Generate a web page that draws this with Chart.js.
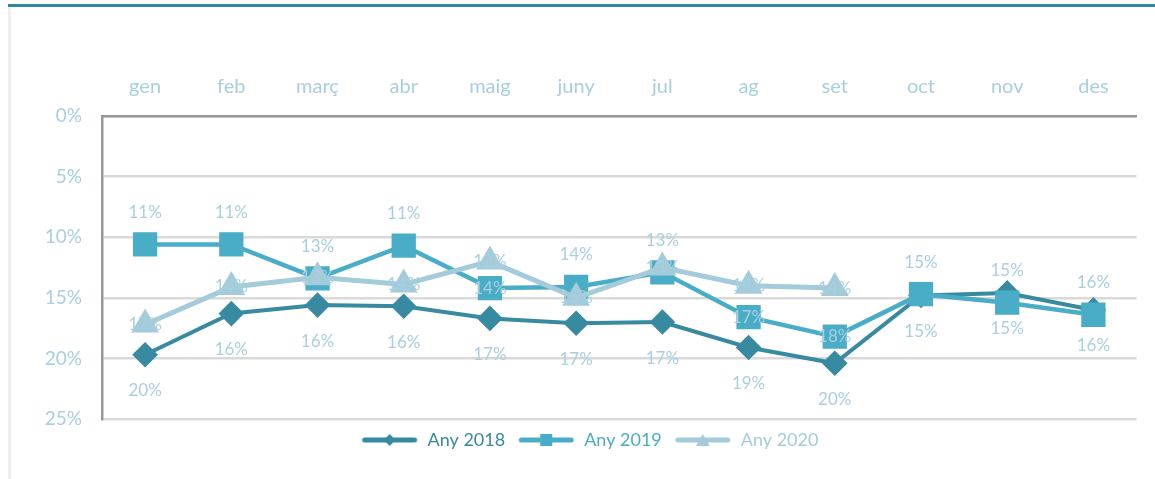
<!DOCTYPE html>
<html>
<head>
<meta charset="utf-8">
<script src="https://cdn.jsdelivr.net/npm/chart.js@4"></script>
<style>
  html, body { margin: 0; padding: 0; background: #fff; }
  #wrap { position: relative; width: 1155px; height: 479px; overflow: hidden; }
  #topbar { position: absolute; left: 8px; right: 0; top: 4px; height: 3px; background: #2f87a0; }
  #sidebar { position: absolute; left: 8px; top: 7px; bottom: 0; width: 3px; background: #efefef; }
  #chart { position: absolute; left: 0; top: 0; }
</style>
</head>
<body>
<div id="wrap">
  <div id="topbar"></div>
  <div id="sidebar"></div>
  <canvas id="chart" width="1155" height="479"></canvas>
</div>
<script>
//////////////////////
// Data
//////////////////////
const months = ["gen", "feb", "març", "abr", "maig", "juny", "jul", "ag", "set", "oct", "nov", "des"];
const any2018 = [19.7, 16.3, 15.6, 15.7, 16.7, 17.1, 17.0, 19.1, 20.4, 14.8, 14.6, 16.0];
const any2019 = [10.6, 10.6, 13.4, 10.7, 14.2, 14.1, 12.9, 16.6, 18.2, 14.7, 15.4, 16.4];
const any2020 = [17.2, 14.1, 13.3, 13.9, 12.0, 15.0, 12.5, 14.0, 14.2, null, null, null];
const yTicks = [0, 5, 10, 15, 20, 25];

// where each series puts its value label: "above", "below" or "center"
const labelPos2018 = Array(12).fill("below");
const labelPos2019 = ["above", "above", "above", "above", "center", "above", "above", "center", "center", "above", "above", "above"];
const labelPos2020 = Array(12).fill("center");

const labelColor = "#a8cfe0";
const fontFamily = "Lato, 'Open Sans', sans-serif";

//////////////////////
// Legend icons (line + marker)
//////////////////////
function legendIcon(color, shape) {
    const c = document.createElement("canvas");
    c.width = 58; c.height = 14;
    const ctx = c.getContext("2d");
    ctx.strokeStyle = color;
    ctx.fillStyle = color;
    ctx.lineWidth = 5;
    ctx.lineCap = "round";
    ctx.beginPath();
    ctx.moveTo(4, 7); ctx.lineTo(54, 7);
    ctx.stroke();
    ctx.beginPath();
    if (shape === "diamond") {
        ctx.moveTo(29, 1); ctx.lineTo(35, 7); ctx.lineTo(29, 13); ctx.lineTo(23, 7);
    } else if (shape === "square") {
        ctx.rect(23, 1, 12, 12);
    } else {
        ctx.moveTo(29, 1); ctx.lineTo(36, 13); ctx.lineTo(22, 13);
    }
    ctx.closePath();
    ctx.fill();
    return c;
}

//////////////////////
// Value labels plugin
//////////////////////
const valueLabels = {
    id: "valueLabels",
    afterDatasetsDraw(chart) {
        const ctx = chart.ctx;
        ctx.save();
        ctx.font = "17px " + fontFamily;
        ctx.fillStyle = labelColor;
        ctx.textAlign = "center";
        ctx.textBaseline = "middle";
        chart.data.datasets.forEach((ds, i) => {
            const meta = chart.getDatasetMeta(i);
            meta.data.forEach((pt, j) => {
                const v = ds.data[j];
                if (v === null) return;
                const pos = ds.labelPos[j];
                let dy = 0;
                if (pos === "below") dy = 36;
                if (pos === "above") dy = -32;
                ctx.fillText(Math.round(v) + "%", pt.x, pt.y + dy);
            });
        });
        ctx.restore();
    }
};

//////////////////////
// Chart
//////////////////////
const colors = ["#378aa0", "#4aadc7", "#a4cbd9"];

new Chart(document.getElementById("chart"), {
    type: "line",
    data: {
        labels: months,
        datasets: [
            {
                label: "Any 2018", data: any2018, order: 2, labelPos: labelPos2018,
                borderColor: colors[0], backgroundColor: colors[0],
                borderWidth: 4, pointStyle: "rectRot", pointRadius: 10,
                legendIcon: legendIcon(colors[0], "diamond")
            },
            {
                label: "Any 2019", data: any2019, order: 1, labelPos: labelPos2019,
                borderColor: colors[1], backgroundColor: colors[1],
                borderWidth: 4.5, pointStyle: "rect", pointRadius: 14,
                legendIcon: legendIcon(colors[1], "square")
            },
            {
                label: "Any 2020", data: any2020, order: 0, labelPos: labelPos2020,
                borderColor: colors[2], backgroundColor: colors[2],
                borderWidth: 5, pointStyle: "triangle", pointRadius: 11,
                legendIcon: legendIcon(colors[2], "triangle")
            }
        ]
    },
    options: {
        responsive: false,
        animation: false,
        layout: { padding: { left: 42, right: 18, top: 62, bottom: 20 } },
        elements: { line: { tension: 0 }, point: { borderWidth: 0, hoverRadius: 8 } },
        scales: {
            x: {
                position: "top",
                offset: true,
                grid: { display: false, drawTicks: false, offset: true },
                border: { display: true, color: "#98989c", width: 2.5 },
                ticks: { color: labelColor, font: { family: fontFamily, size: 20 }, padding: 17 },
                afterFit(scale) { scale.height = 54; }
            },
            y: {
                reverse: true,
                min: 0, max: 25,
                afterBuildTicks(scale) { scale.ticks = yTicks.map(v => ({ value: v })); },
                grid: { color: "#d9d9d9", lineWidth: 2.5, drawTicks: false },
                border: { display: true, color: "#98989c", width: 2.5 },
                ticks: {
                    color: labelColor, font: { family: fontFamily, size: 19 }, padding: 20,
                    callback: v => v + "%"
                },
                afterFit(scale) { scale.width = 60; }
            }
        },
        plugins: {
            tooltip: { enabled: false },
            legend: {
                position: "bottom",
                labels: {
                    usePointStyle: true,
                    pointStyleWidth: 58,
                    font: { family: fontFamily, size: 18 },
                    padding: 12,
                    generateLabels(chart) {
                        return chart.data.datasets.map((ds, i) => ({
                            text: ds.label,
                            fontColor: ds.borderColor,
                            pointStyle: ds.legendIcon,
                            fillStyle: ds.borderColor,
                            strokeStyle: ds.borderColor,
                            lineWidth: 0,
                            datasetIndex: i,
                            hidden: false
                        }));
                    }
                }
            }
        }
    },
    plugins: [valueLabels]
});
</script>
</body>
</html>
